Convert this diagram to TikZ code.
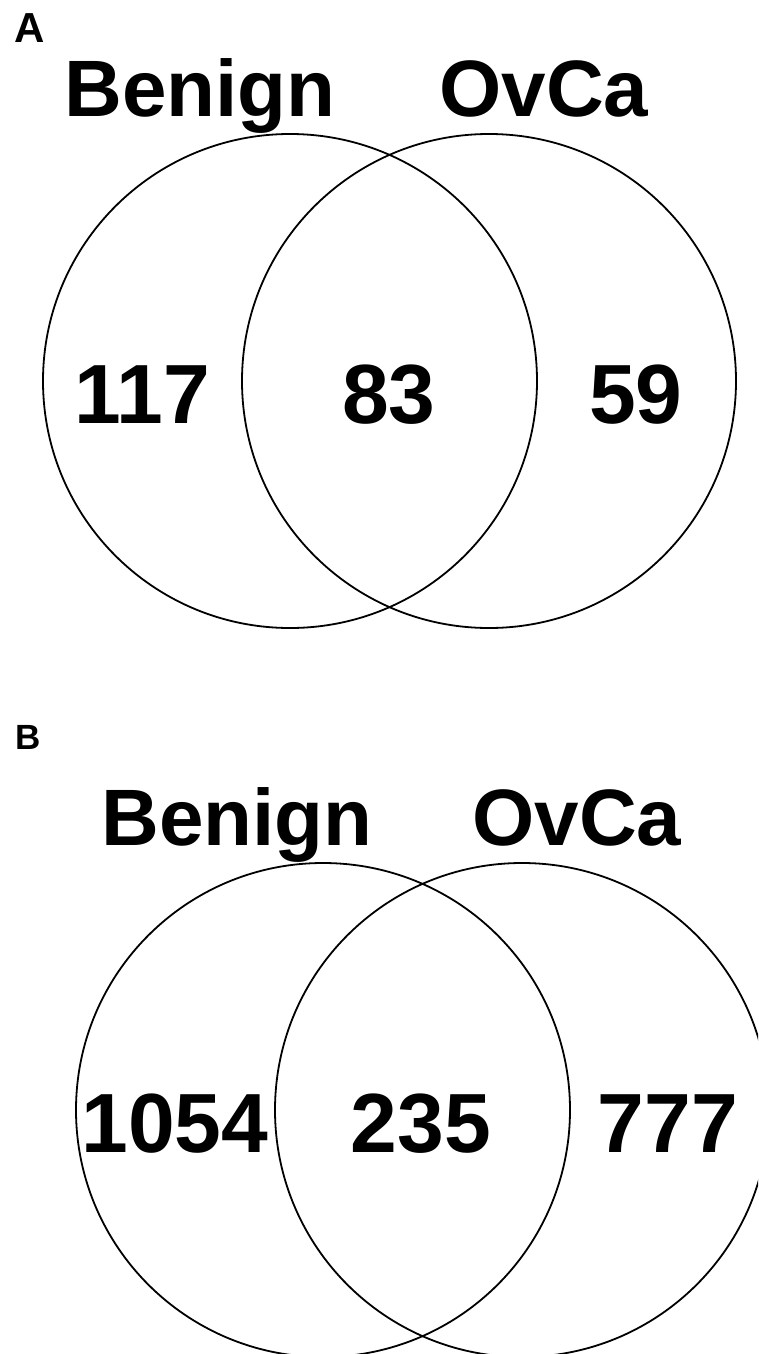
\documentclass[tikz,border=0pt]{standalone}
\usepackage{fontspec}
\setmainfont{Liberation Sans}
\usepackage{tikz}
\usepackage{xcolor}

\begin{document}
\begin{tikzpicture}[x=1pt,y=-1pt]%
  \tikzstyle{setn}=[circle,draw=black,line width=1.8pt,minimum size=494pt,inner sep=0]
  \tikzstyle{hdrn}=[anchor=base,inner sep=0,font=\fontsize{80}{80}\selectfont\bfseries]
  \tikzstyle{numn}=[anchor=base,inner sep=0,font=\fontsize{84}{84}\selectfont\bfseries]
  \useasboundingbox (0,0) rectangle (758,1354);
  \clip (0,0) rectangle (758,1354);
  % panel A
  \node(pA)[anchor=base west,inner sep=0,font=\fontsize{42}{42}\selectfont\bfseries] at (14,43) {A};
  \node(benA)[hdrn] at (200,116) {Benign};
  \node(ovcA)[hdrn] at (544,116) {OvCa};
  \node(cbA)[setn] at (290,381) {};
  \node(coA)[setn] at (489,381) {};
  \node(onlybA)[numn] at (142,423) {117};
  \node(bothA)[numn] at (389,423) {83};
  \node(onlyoA)[numn] at (636,423) {59};
  % panel B
  \node(pB)[anchor=base west,inner sep=0,font=\fontsize{35}{35}\selectfont\bfseries] at (15,749) {B};
  \node(benB)[hdrn] at (237,845) {Benign};
  \node(ovcB)[hdrn] at (577,845) {OvCa};
  \node(cbB)[setn] at (323,1110) {};
  \node(coB)[setn] at (522,1110) {};
  \node(onlybB)[numn] at (175,1152) {1054};
  \node(bothB)[numn] at (421,1152) {235};
  \node(onlyoB)[numn] at (668,1152) {777};
\end{tikzpicture}
\end{document}
